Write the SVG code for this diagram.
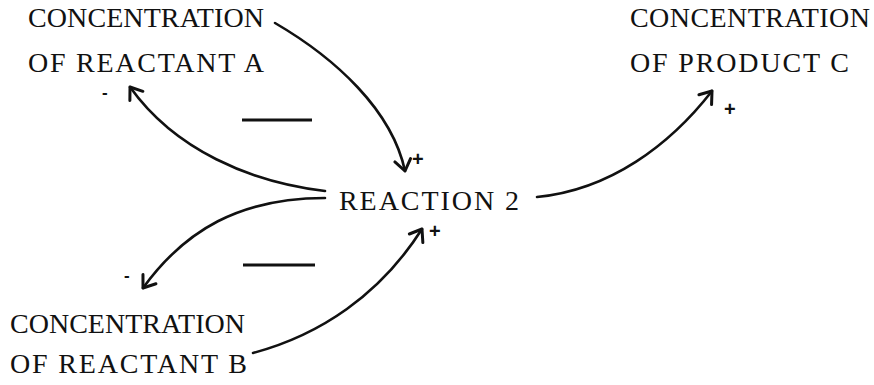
<svg xmlns="http://www.w3.org/2000/svg" width="874" height="385" viewBox="0 0 874 385">
<style>
.t{font-family:"Liberation Serif","DejaVu Serif",serif;font-size:28px;fill:#111}
.s{font-family:"Liberation Sans","DejaVu Sans",sans-serif;font-size:20px;font-weight:bold;fill:#111}
.m{font-family:"Liberation Sans","DejaVu Sans",sans-serif;font-size:17px;font-weight:bold;fill:#111}
.c{fill:none;stroke:#111;stroke-width:2.6;stroke-linecap:round}
.bar{stroke:#111;stroke-width:3}
</style>
<defs>
<marker id="ah" markerUnits="userSpaceOnUse" markerWidth="30" markerHeight="30" refX="15" refY="15" orient="auto" viewBox="0 0 30 30">
<path d="M4,7 L15,15 L4,23" fill="none" stroke="#111" stroke-width="3" stroke-linecap="round" stroke-linejoin="round"/>
</marker>
</defs>
<rect width="874" height="385" fill="#fff"/>
<g id="nodeA">
<text class="t" x="28" y="27" textLength="236" lengthAdjust="spacing">CONCENTRATION</text>
<text class="t" x="28" y="72" textLength="236" lengthAdjust="spacing">OF REACTANT A</text>
</g>
<g id="nodeC">
<text class="t" x="630" y="27" textLength="240" lengthAdjust="spacing">CONCENTRATION</text>
<text class="t" x="630" y="72" textLength="219" lengthAdjust="spacing">OF PRODUCT C</text>
</g>
<g id="nodeR">
<text class="t" x="339" y="210" textLength="180" lengthAdjust="spacing">REACTION 2</text>
</g>
<g id="nodeB">
<text class="t" x="10" y="333" textLength="235" lengthAdjust="spacing">CONCENTRATION</text>
<text class="t" x="10" y="373" textLength="237" lengthAdjust="spacing">OF REACTANT B</text>
</g>
<g id="connectors">
<path class="c" d="M275,23 C335,58 392,110 405,171" marker-end="url(#ah)"/>
<path class="c" d="M325,191 C250,182 175,150 130,87" marker-end="url(#ah)"/>
<path class="c" d="M325,198 C240,198 185,230 143,288" marker-end="url(#ah)"/>
<path class="c" d="M253,353 C320,335 380,295 422,229" marker-end="url(#ah)"/>
<path class="c" d="M537,197 C610,190 670,145 712,91" marker-end="url(#ah)"/>
<line class="bar" x1="242" y1="120" x2="312" y2="120"/>
<line class="bar" x1="243" y1="265" x2="315" y2="265"/>
<text class="s" x="412" y="166">+</text>
<text class="s" x="429" y="238">+</text>
<text class="s" x="724" y="116">+</text>
<text class="m" x="102" y="98">-</text>
<text class="m" x="124" y="281">-</text>
</g>
</svg>
